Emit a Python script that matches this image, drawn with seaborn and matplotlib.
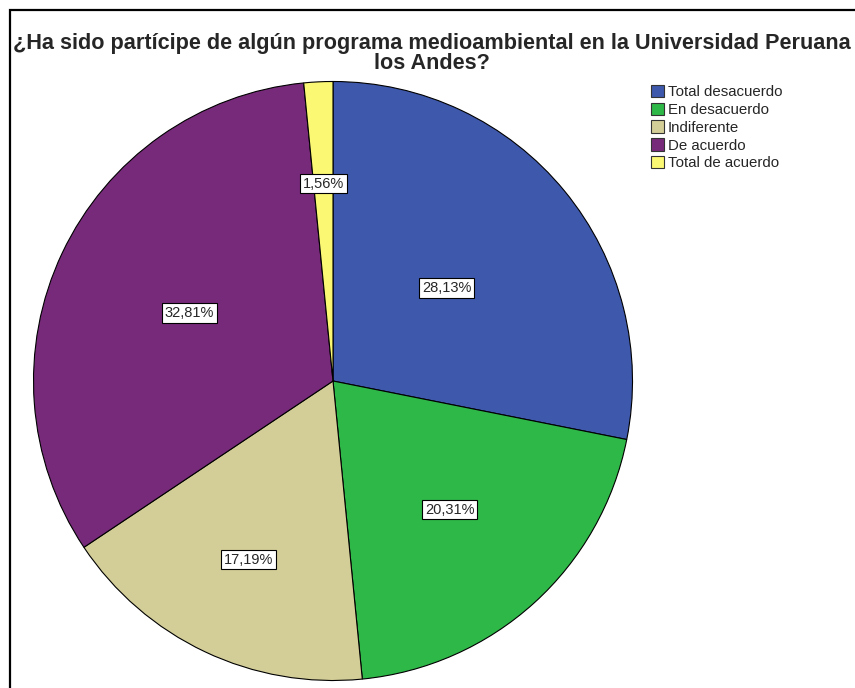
import matplotlib
matplotlib.use("Agg")
import matplotlib.pyplot as plt
from matplotlib.patches import Rectangle, Patch
import seaborn as sns
import numpy as np

categories = ["Total desacuerdo", "En desacuerdo", "Indiferente", "De acuerdo", "Total de acuerdo"]
values = [28.13, 20.31, 17.19, 32.81, 1.56]
colors = ["#3E58AC", "#2EB848", "#D3CE97", "#782A7A", "#FBF873"]
label_radius = [0.49, 0.58, 0.66, 0.53, 0.66]
title = "¿Ha sido partícipe de algún programa medioambiental en la Universidad Peruana\nlos Andes?"

sns.set_style("white")
plt.rcParams["font.family"] = ["Liberation Sans", "DejaVu Sans"]

W, H = 855, 688
fig = plt.figure(figsize=(W / 100, H / 100), dpi=100)
cx, cy, r = 333, 381, 301
ax = fig.add_axes([(cx - r) / W, (H - cy - r) / H, 2 * r / W, 2 * r / H])

palette = sns.color_palette(colors)
wedges, _ = ax.pie(values, colors=palette, startangle=90, counterclock=False,
                   radius=1.0, wedgeprops=dict(edgecolor="black", linewidth=0.8))
ax.set_xlim(-1.005, 1.005)
ax.set_ylim(-1.005, 1.005)
ax.set_aspect("auto")
ax.axis("off")

for w, v, rf in zip(wedges, values, label_radius):
    ang = np.deg2rad((w.theta1 + w.theta2) / 2)
    ax.text(rf * np.cos(ang), rf * np.sin(ang), f"{v:.2f}%".replace(".", ","),
            ha="center", va="center", fontsize=10.5,
            bbox=dict(boxstyle="square,pad=0.18", facecolor="white", edgecolor="black", linewidth=0.8))

handles = [Patch(facecolor=c, edgecolor="#333333", linewidth=0.8) for c in palette]
fig.legend(handles, categories, loc="upper left", bbox_to_anchor=(648 / W, 1 - 82 / H),
           frameon=False, fontsize=10.8, handlelength=0.85, handleheight=0.9,
           handletextpad=0.25, labelspacing=0.22, borderpad=0.2, borderaxespad=0)

fig.text(432 / W, 1 - 33 / H, title, ha="center", va="top", fontsize=15.6,
         fontweight="bold", linespacing=0.95)

fig.patches.append(Rectangle((9.5 / W, -0.2), 2.0, (H - 9.5) / H + 0.2,
                             transform=fig.transFigure, fill=False,
                             edgecolor="black", linewidth=1.6))

fig.savefig("out.png", dpi=100)
